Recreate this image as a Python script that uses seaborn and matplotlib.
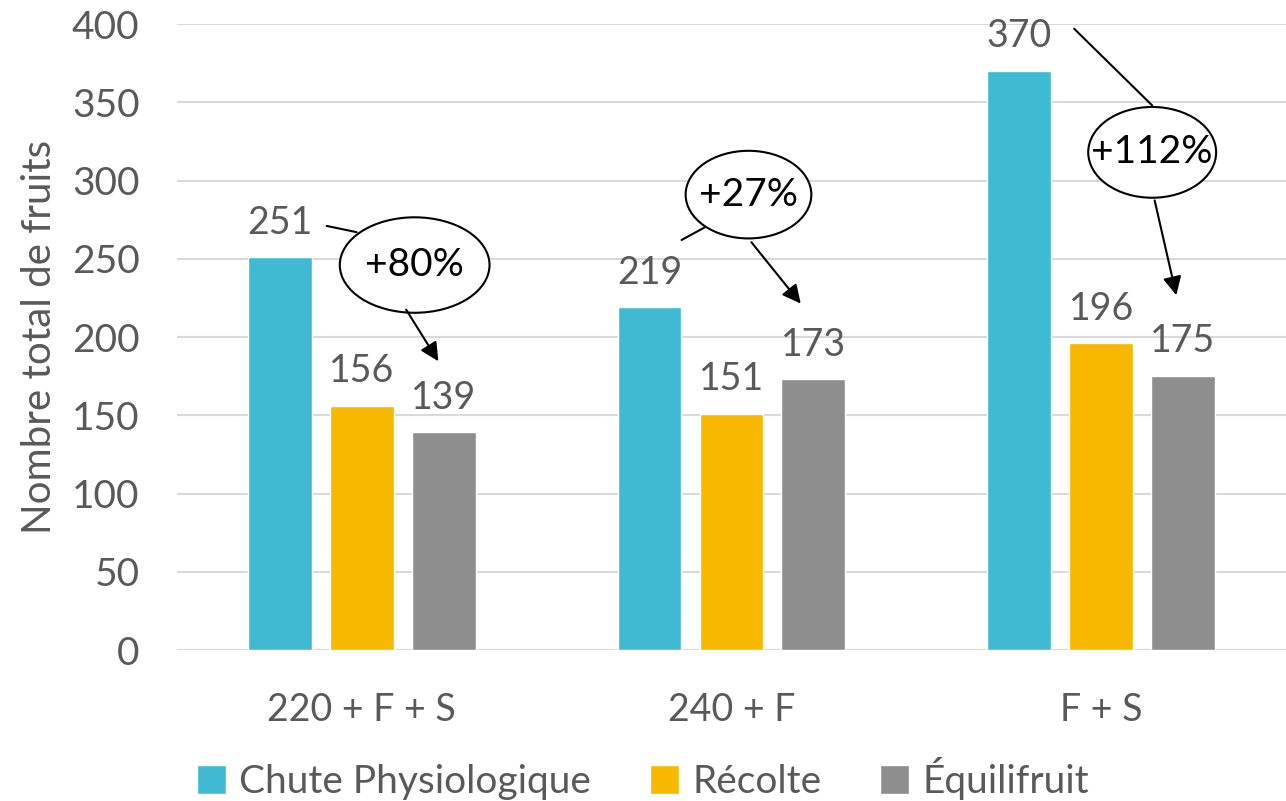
import pandas as pd
import seaborn as sns
import matplotlib
matplotlib.use('Agg')
import matplotlib.pyplot as plt
from matplotlib.patches import Ellipse

categories = ['220 + F + S', '240 + F', 'F + S']
series = ['Chute Physiologique', 'Récolte', 'Équilifruit']
chute = [251, 219, 370]
recolte = [156, 151, 196]
equilifruit = [139, 173, 175]
gains = ['+80%', '+27%', '+112%']
colors = ['#40BAD2', '#F8B800', '#8E8E8E']

sns.set_theme(style='white')
plt.rcParams['font.family'] = ['Lato', 'DejaVu Sans']
grey = '#595959'

df = pd.DataFrame({
    'cat': categories * 3,
    'serie': [s for s in series for _ in categories],
    'val': chute + recolte + equilifruit,
})

fig = plt.figure(figsize=(12.86, 8.01), dpi=100)
ax = fig.add_axes([0.1376, 0.1885, 0.8624, 0.7815])

sns.barplot(data=df, x='cat', y='val', hue='serie', palette=colors,
            width=0.665, gap=0.22, saturation=1, ax=ax, legend=True)

ax.set_ylim(0, 400)
ax.set_xlim(-0.5, 2.5)
ax.set_yticks(range(0, 401, 50))
ax.yaxis.grid(True, color='#D9D9D9', lw=1.5)
ax.set_axisbelow(True)
for s in ax.spines.values():
    s.set_visible(False)
ax.tick_params(axis='both', length=0, labelsize=28, labelcolor=grey)
ax.tick_params(axis='y', pad=27)
ax.tick_params(axis='x', pad=30, labelsize=27)
ax.set_xlabel('')
ax.set_ylabel('Nombre total de fruits', fontsize=29, color=grey, labelpad=10)

for cont in ax.containers:
    ax.bar_label(cont, fmt='%d', padding=12, fontsize=27, color=grey)

# ellipses + arrows (Chute -> Équilifruit)
ell = [(0.143, 246, 0.405, 61), (1.046, 291, 0.34, 56), (2.138, 318, 0.346, 58)]
lines = [((-0.095, 271), (-0.014, 267)), ((0.865, 262), (0.927, 270)), ((1.927, 397), (2.138, 348))]
arrows = [((0.116, 219), (0.211, 183)), ((1.049, 262), (1.192, 220)), ((2.143, 289), (2.205, 225))]
for g, (cx, cy, w, h), ln, ar in zip(gains, ell, lines, arrows):
    ax.add_patch(Ellipse((cx, cy), w, h, facecolor='white', edgecolor='black', lw=1.5, zorder=5))
    ax.text(cx, cy, g, ha='center', va='center', fontsize=28, color='black', zorder=6)
    ax.plot([ln[0][0], ln[1][0]], [ln[0][1], ln[1][1]], color='black', lw=1.5, zorder=4)
    ax.annotate('', xy=ar[1], xytext=ar[0],
                arrowprops=dict(arrowstyle='-|>', color='black', lw=1.5, mutation_scale=28),
                zorder=6)

handles, labels = ax.get_legend_handles_labels()
ax.legend_.remove()
fig.legend(handles, labels, loc='center', bbox_to_anchor=(0.5, 0.028), ncol=3,
           frameon=False, fontsize=28, labelcolor=grey, handlelength=0.75, handleheight=0.75,
           handletextpad=0.35, columnspacing=1.5)

fig.savefig('out.png', dpi=100)
